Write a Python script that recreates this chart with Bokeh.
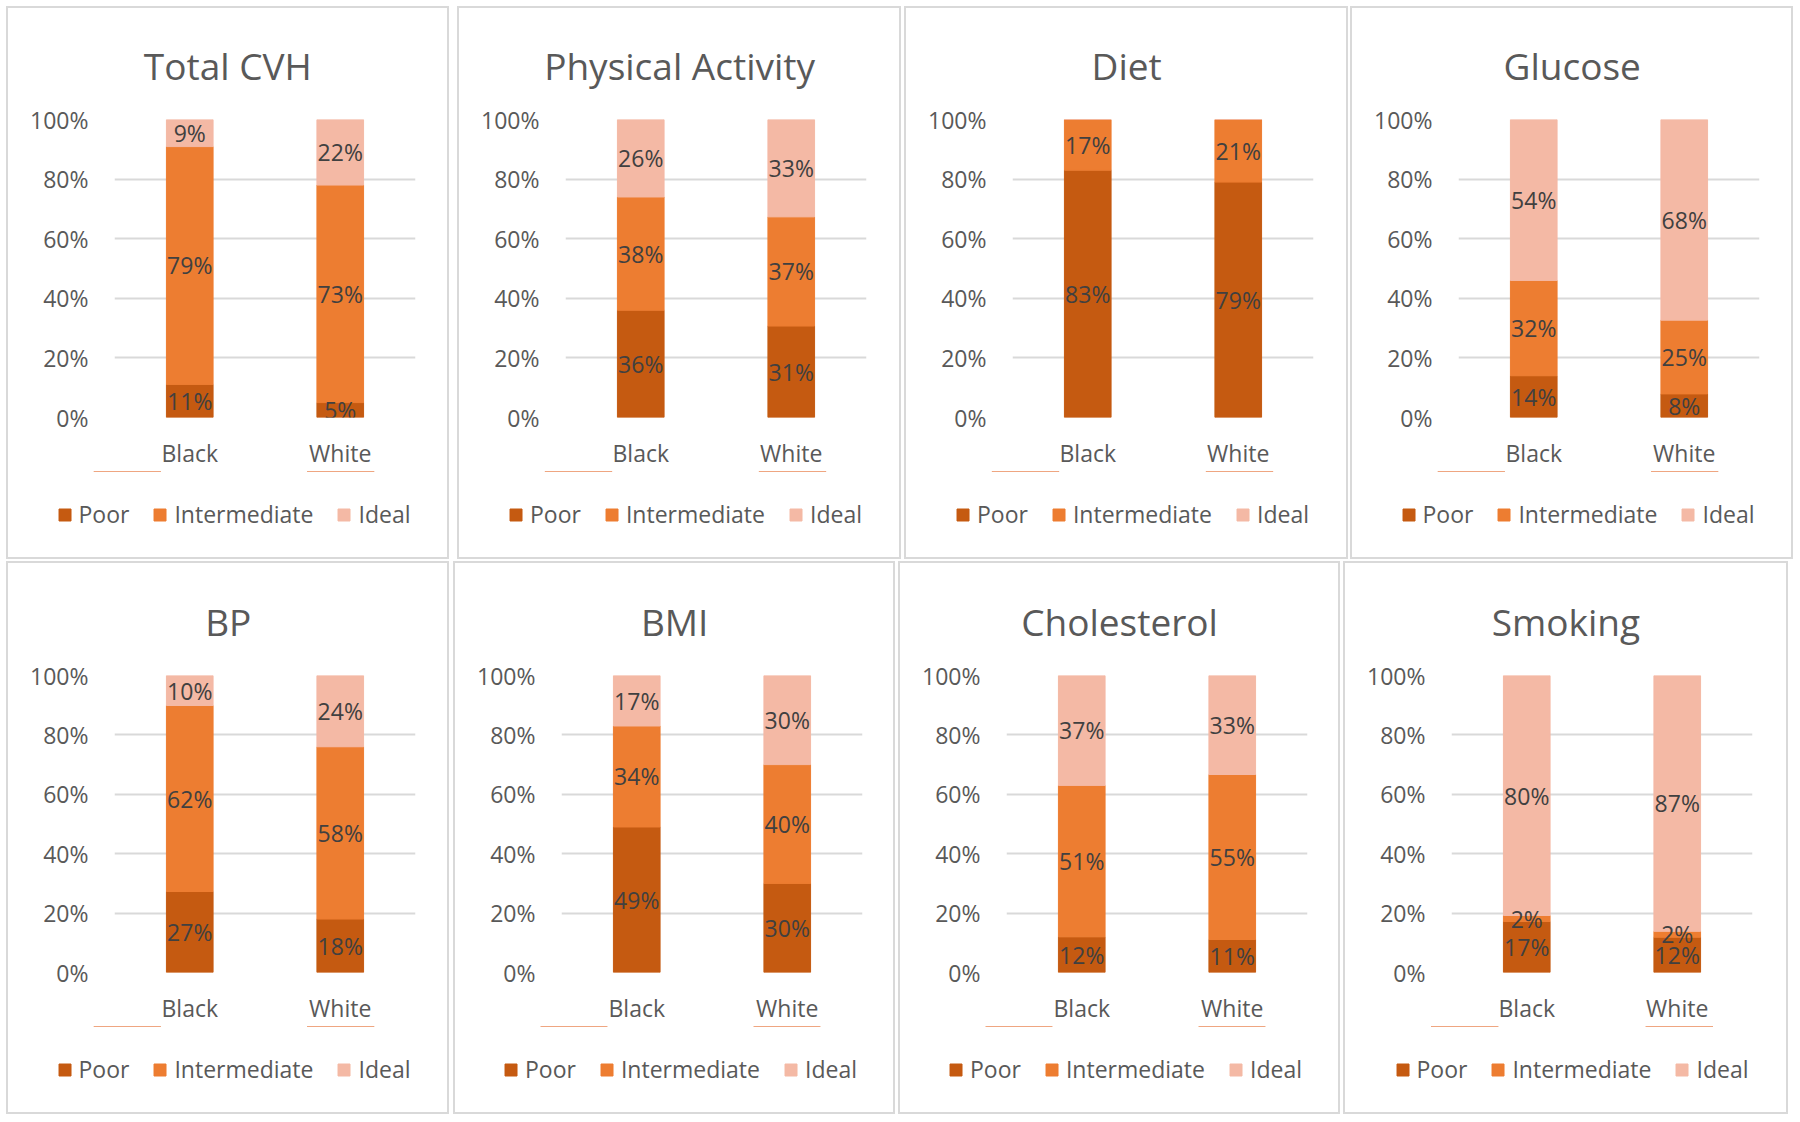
from bokeh.plotting import figure
from bokeh.models import (ColumnDataSource, LabelSet, FactorRange, Range1d,
                          FixedTicker, PrintfTickFormatter)
from bokeh.layouts import column, row
from bokeh.core.properties import value
from bokeh.embed import file_html
from bokeh.resources import INLINE

groups = ["Black", "White"]
levels = ["Poor", "Intermediate", "Ideal"]
titles = ["Total CVH", "Physical Activity", "Diet", "Glucose",
          "BP", "BMI", "Cholesterol", "Smoking"]
poor = [[11, 5], [36, 31], [83, 79], [14, 8], [27, 18], [49, 30], [12, 11], [17, 12]]
intermediate = [[79, 73], [38, 37], [17, 21], [32, 25], [62, 58], [34, 40], [51, 55], [2, 2]]
ideal = [[9, 22], [26, 33], [0, 0], [54, 68], [10, 24], [17, 30], [37, 33], [80, 87]]
y_ticks = [0, 20, 40, 60, 80, 100]
colors = ["#C55A11", "#ED7D31", "#F4B9A5"]

FONT = "Open Sans"
TXT = "#595959"
TITLE_PX = 37

# approximate Open Sans advance widths (em) for centring titles on the panel
CW = {'T': .559, 'o': .601, 't': .351, 'a': .556, 'l': .253, ' ': .260, 'C': .633,
      'V': .593, 'H': .742, 'P': .598, 'h': .614, 'y': .504, 's': .477, 'i': .253,
      'c': .476, 'A': .633, 'v': .504, 'D': .722, 'e': .561, 'G': .719, 'u': .614,
      'B': .635, 'M': .903, 'I': .279, 'r': .408, 'S': .539, 'm': .930, 'k': .537,
      'n': .614, 'g': .543}

# canvases (inside the 2px panel outline): widths and left gaps, per row
top_w = [439, 440, 440, 439]
top_gap = [0, 12, 7, 6]
bot_w = [439, 438, 438, 441]
bot_gap = [0, 8, 7, 7]
CANVAS_H = 549
LEG_H = 86
FRAME_W = 301
FRAME_H = 298
FRAME_L = 106


def make_panel(i, cw, gap_left, gap_top, frame_top):
    ch = CANVAS_H - LEG_H
    vals = [poor[i], intermediate[i], ideal[i]]
    totals = [sum(v[j] for v in vals) for j in range(len(groups))]
    data = dict(group=groups)
    for k, lev in enumerate(levels):
        data[lev] = [vals[k][j] * 100.0 / totals[j] for j in range(len(groups))]
    src = ColumnDataSource(data)

    bottom_border = ch - frame_top - FRAME_H
    p = figure(x_range=FactorRange(factors=groups), y_range=Range1d(0, 100),
               width=cw, height=ch, output_backend="svg", toolbar_location=None,
               min_border_left=FRAME_L, min_border_right=cw - FRAME_L - FRAME_W,
               min_border_top=frame_top, min_border_bottom=bottom_border,
               title=titles[i])
    p.outline_line_color = None

    p.vbar_stack(levels, x="group", width=0.31, color=colors, source=src)

    # data labels
    lx, ly, lt = [], [], []
    for j, g in enumerate(groups):
        base = 0.0
        for k in range(len(levels)):
            hgt = vals[k][j] * 100.0 / totals[j]
            if vals[k][j] > 0:
                lx.append(g)
                ly.append(base + hgt / 2.0)
                lt.append(f"{vals[k][j]}%")
            base += hgt
    lsrc = ColumnDataSource(dict(x=lx, y=ly, t=lt))
    p.add_layout(LabelSet(x="x", y="y", text="t", source=lsrc,
                          text_align="center", text_baseline="middle",
                          text_font=value(FONT), text_font_size="23px",
                          text_color="#404040"))

    # title, centred on the whole panel
    tw = sum(CW.get(c, 0.56) for c in titles[i]) * TITLE_PX
    center_rel_frame = cw / 2.0 - FRAME_L
    p.title.text_font = FONT
    p.title.text_font_size = f"{TITLE_PX}px"
    p.title.text_font_style = "normal"
    p.title.text_color = TXT
    p.title.align = "left"
    p.title.offset = center_rel_frame - tw / 2.0
    p.title.standoff = 58

    # axes
    p.yaxis.ticker = FixedTicker(ticks=y_ticks)
    p.yaxis.formatter = PrintfTickFormatter(format="%d%%")
    for ax in (p.xaxis[0], p.yaxis[0]):
        ax.axis_line_color = None
        ax.major_tick_line_color = None
        ax.minor_tick_line_color = None
        ax.major_tick_out = 0
        ax.major_tick_in = 0
        ax.major_label_text_font = FONT
        ax.major_label_text_font_size = "23px"
        ax.major_label_text_color = TXT
    p.yaxis.major_label_standoff = 26
    p.xaxis.major_label_standoff = 19

    p.xgrid.grid_line_color = None
    p.ygrid.grid_line_color = "#D9D9D9"
    p.ygrid.grid_line_width = 2

    # legend strip: its own small figure under the chart (bars kept out of view)
    lp = figure(width=cw, height=LEG_H, x_range=FactorRange(factors=groups),
                y_range=Range1d(-2, -1), output_backend="svg", toolbar_location=None,
                x_axis_location=None, y_axis_location=None,
                min_border=0, min_border_left=12)
    lp.grid.visible = False
    lp.outline_line_color = None
    lp.vbar_stack(levels, x="group", width=0.31, color=colors, source=src,
                  legend_label=levels)
    lg = lp.legend[0]
    lg.orientation = "horizontal"
    lg.location = "center"
    lg.padding = 0
    lg.margin = 0
    lg.spacing = 23
    lg.label_standoff = 7
    lg.glyph_width = 15
    lg.glyph_height = 15
    lg.border_line_color = None
    lg.background_fill_alpha = 0
    lg.label_text_font = FONT
    lg.label_text_font_size = "23px"
    lg.label_text_color = TXT

    return column(p, row(lp, spacing=0), spacing=0,
                  margin=(gap_top, 0, 0, gap_left),
                  styles={"outline": "2px solid #D9D9D9"})


top = [make_panel(i, top_w[i], top_gap[i], 0, 111) for i in range(4)]
bot = [make_panel(4 + i, bot_w[i], bot_gap[i], 6, 112) for i in range(4)]

layout = column(row(*top, spacing=0), row(*bot, spacing=0), spacing=0,
                margin=(8, 0, 0, 8))

with open("out.html", "w") as f:
    f.write(file_html(layout, INLINE))
